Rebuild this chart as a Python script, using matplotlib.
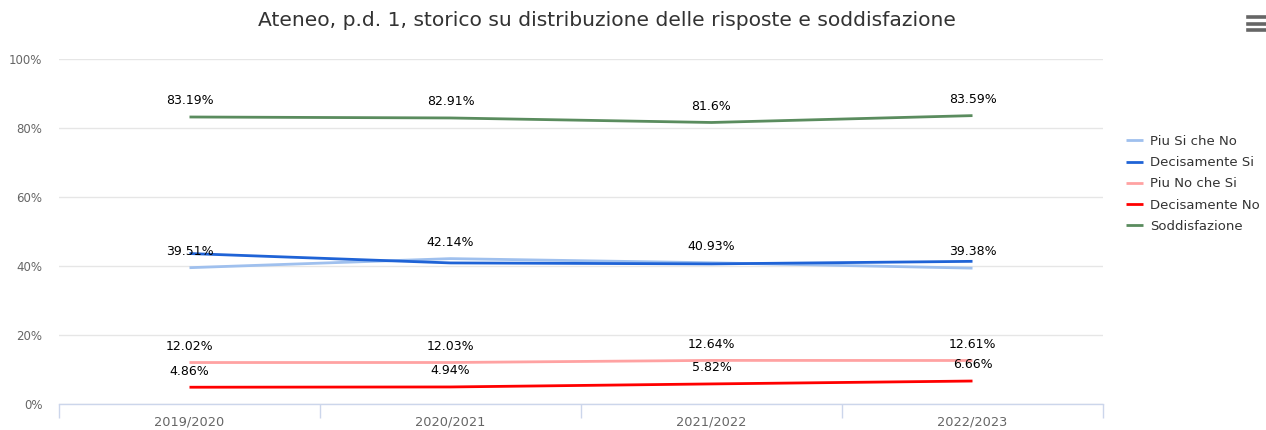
import matplotlib
matplotlib.use("Agg")
import matplotlib.pyplot as plt
from matplotlib.lines import Line2D

categories = ["2019/2020", "2020/2021", "2021/2022", "2022/2023"]
piu_si = [39.51, 42.14, 40.93, 39.38]
dec_si = [43.61, 40.89, 40.61, 41.35]
piu_no = [12.02, 12.03, 12.64, 12.61]
dec_no = [4.86, 4.94, 5.82, 6.66]
soddisf = [83.19, 82.91, 81.6, 83.59]

series = [
    ("Piu Si che No", piu_si, "#9fc0ee", True),
    ("Decisamente Si", dec_si, "#1f63d6", False),
    ("Piu No che Si", piu_no, "#ffa2a2", True),
    ("Decisamente No", dec_no, "#ff0000", True),
    ("Soddisfazione", soddisf, "#5a8c5e", True),
]

plt.rcParams['font.family'] = ['DejaVu Sans']
W, H = 1266, 430
fig = plt.figure(figsize=(W / 100, H / 100), dpi=100)
ax = fig.add_axes([59 / W, 1 - 404 / H, (1103 - 59) / W, (404 - 59) / H])

x = list(range(len(categories)))
for name, vals, col, lab in series:
    ax.plot(x, vals, color=col, lw=2, label=name, solid_capstyle='butt')
    if lab:
        for xi, v in zip(x, vals):
            ax.annotate(f"{v}%", (xi, v), xytext=(0, 7), textcoords='offset points',
                        ha='center', va='bottom', fontsize=9, color='#000000')

ax.set_xlim(-0.5, 3.5)
ax.set_ylim(0, 100)
ax.set_yticks([0, 20, 40, 60, 80, 100])
ax.set_yticklabels(["0%", "20%", "40%", "60%", "80%", "100%"])
ax.set_xticks(x)
ax.set_xticklabels(categories)
ax.set_xticks([-0.5, 0.5, 1.5, 2.5, 3.5], minor=True)
ax.tick_params(axis='x', which='major', length=0, labelsize=9.3, labelcolor='#666666', pad=8)
ax.tick_params(axis='x', which='minor', length=10, color='#ccd6eb', width=1)
ax.tick_params(axis='y', length=0, labelsize=8.5, labelcolor='#666666', pad=12)
ax.grid(axis='y', color='#e6e6e6', lw=1)
ax.set_axisbelow(True)
for s in ['top', 'right', 'left']:
    ax.spines[s].set_visible(False)
ax.spines['bottom'].set_color('#ccd6eb')
ax.spines['bottom'].set_linewidth(1)

fig.text(607 / W, 1 - 20 / H, "Ateneo, p.d. 1, storico su distribuzione delle risposte e soddisfazione",
         ha='center', va='center', fontsize=14.6, color='#333333')

leg = fig.legend(loc='upper left', bbox_to_anchor=(1126 / W, 1 - 135 / H), frameon=False,
                 fontsize=9.5, handlelength=1.3, handletextpad=0.55, labelspacing=0.62,
                 borderaxespad=0, borderpad=0)
for t in leg.get_texts():
    t.set_color('#333333')

for yy in [17, 23.5, 30]:
    fig.add_artist(Line2D([1248 / W, 1266 / W], [1 - yy / H, 1 - yy / H], color='#666666', lw=2.6,
                          transform=fig.transFigure))

fig.savefig("out.png", dpi=100)
